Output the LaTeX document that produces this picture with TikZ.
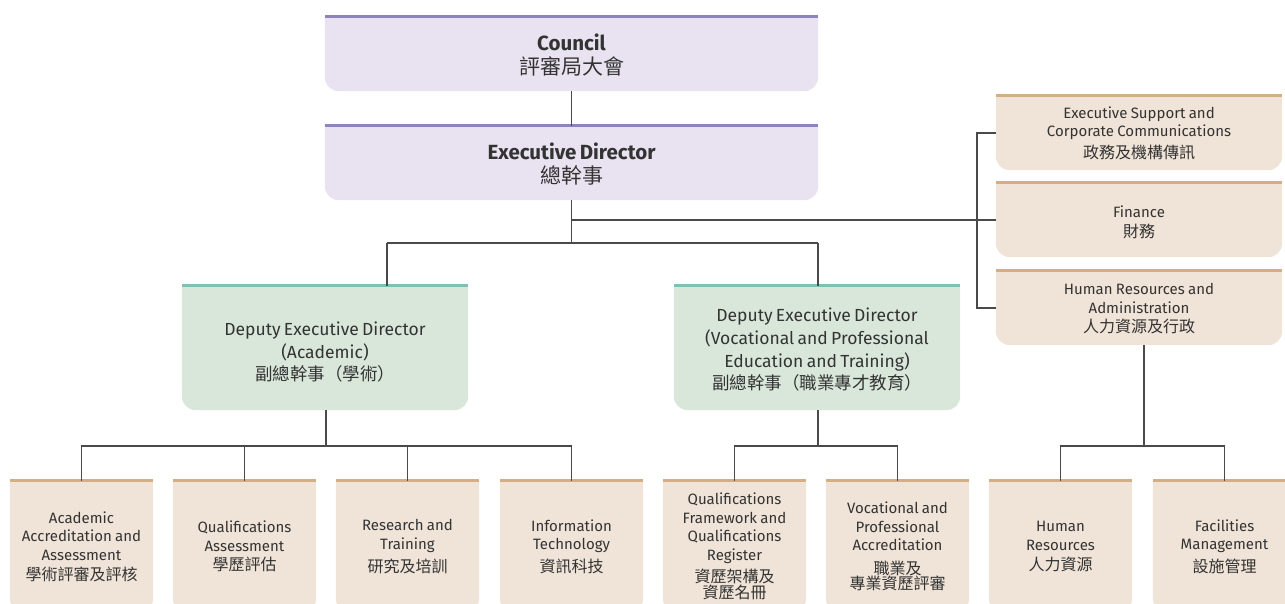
\documentclass[tikz,border=0pt]{standalone}
\usepackage{fontspec}
\setmainfont{Fira Sans}
\newfontfamily\cjk{Noto Sans CJK TC}
\usetikzlibrary{backgrounds}
\definecolor{lavfill}{HTML}{E9E3F1}
\definecolor{lavline}{HTML}{8C84BD}
\definecolor{grnfill}{HTML}{D9E7DA}
\definecolor{grnline}{HTML}{80C0B4}
\definecolor{tanfill}{HTML}{F0E4D8}
\definecolor{tanline}{HTML}{D4AF86}
\definecolor{txtcol}{HTML}{333333}
\definecolor{linkcol}{HTML}{4A4A4A}
% #1 name, #2 x1, #3 y1, #4 x2, #5 y2, #6 fill, #7 top line, #8 text, #9 text shift down
\newcommand\orgbox[9]{%
 \pgfmathsetmacro\bw{#4-#2}\pgfmathsetmacro\bh{#5-#3}%
 \pgfmathsetmacro\bx{(#2+#4)/2}\pgfmathsetmacro\by{(#3+#5)/2}%
 \pgfmathsetmacro\tw{#4-#2-8}%
 \node[boxshape, minimum width=\bw pt, minimum height=\bh pt] (#1) at (\bx,\by) {};
 \fill[#6] (#1.north west) [rounded corners=14pt] -- (#1.south west) -- (#1.south east) [sharp corners] -- (#1.north east) -- cycle;
 \draw[#7, line width=3pt] (#1.north west) -- (#1.north east);
 \node[boxtext, text width=\tw pt, yshift=-#9pt] (#1-t) at (#1.center) {#8};
}
% font helpers
\newcommand\bigf{\fontsize{20.5}{24}\selectfont}
\newcommand\bigc[1]{{\cjk\fontsize{21}{24}\selectfont #1}}
\newcommand\depf{\fontsize{17.5}{23}\selectfont}
\newcommand\depc[1]{{\cjk\fontsize{17.5}{23}\selectfont #1}}
\newcommand\smf{\fontsize{15}{18.5}\selectfont}
\newcommand\smc[1]{{\cjk\fontsize{16}{18.5}\selectfont #1}}
\tikzset{
 boxshape/.style={inner sep=0pt, draw=none},
 boxtext/.style={inner sep=0pt, align=center, text=txtcol},
 link/.style={draw=linkcol, line width=1.2pt}
}
\begin{document}
\begin{tikzpicture}[x=1pt,y=-1pt]
\useasboundingbox (0,0) rectangle (1285,603);
% top
\orgbox{council}{325}{17}{818}{91}{lavfill}{lavline}{\bigf{\bfseries Council}\\[5pt]\bigc{評審局大會}}{1}
\orgbox{ed}{325}{126}{818}{200}{lavfill}{lavline}{\bigf{\bfseries Executive Director}\\[5pt]\bigc{總幹事}}{1}
% deputies
\orgbox{depA}{182}{286}{468}{410}{grnfill}{grnline}{\depf Deputy Executive Director\\(Academic)\\[2.5pt]\depc{副總幹事（學術）}}{4}
\orgbox{depV}{674}{286}{960}{410}{grnfill}{grnline}{\depf Deputy Executive Director\\(Vocational and Professional\\Education and Training)\\[2.5pt]\depc{副總幹事（職業專才教育）}}{1.5}
% right column
\orgbox{es}{996}{96}{1282}{170}{tanfill}{tanline}{\smf Executive Support and\\Corporate Communications\\[4.5pt]\smc{政務及機構傳訊}}{0.5}
\orgbox{fin}{996}{183}{1282}{257}{tanfill}{tanline}{\smf Finance\\[5pt]\smc{財務}}{2}
\orgbox{hra}{996}{271}{1282}{345}{tanfill}{tanline}{\smf Human Resources and\\Administration\\[4.5pt]\smc{人力資源及行政}}{0.5}
% bottom row
\orgbox{b1}{10}{481}{153}{612}{tanfill}{tanline}{\smf Academic\\Accreditation and\\Assessment\\[5pt]\smc{學術評審及評核}}{0}
\orgbox{b2}{173}{481}{316}{612}{tanfill}{tanline}{\smf Qualifications\\Assessment\\[5pt]\smc{學歷評估}}{0}
\orgbox{b3}{336}{481}{479}{612}{tanfill}{tanline}{\smf Research and\\Training\\[5pt]\smc{研究及培訓}}{0}
\orgbox{b4}{500}{481}{643}{612}{tanfill}{tanline}{\smf Information\\Technology\\[5pt]\smc{資訊科技}}{0}
\orgbox{b5}{663}{481}{806}{612}{tanfill}{tanline}{\smf Qualifications\\Framework and\\Qualifications\\Register\\[4pt]\smc{資歷架構及\\資歷名冊}}{0}
\orgbox{b6}{826}{481}{969}{612}{tanfill}{tanline}{\smf Vocational and\\Professional\\Accreditation\\[5pt]\smc{職業及\\專業資歷評審}}{0}
\orgbox{b7}{989}{481}{1132}{612}{tanfill}{tanline}{\smf Human\\Resources\\[5pt]\smc{人力資源}}{0}
\orgbox{b8}{1153}{481}{1296}{612}{tanfill}{tanline}{\smf Facilities\\Management\\[5pt]\smc{設施管理}}{0}
% connectors
\coordinate (ja) at (387,243);
\coordinate (jv) at (818,243);
\coordinate (bx) at (977,0);
\coordinate (ha) at (326,446);
\coordinate (hv) at (818,446);
\coordinate (hh) at (1144,446);
\draw[link] (council.south) -- (ed.north);
\draw[link] (ed.south) -- (ed.south |- ja);
\draw[link] (ja) -- (jv);
\draw[link] (ja) -- (ja |- depA.north);
\draw[link] (jv) -- (jv |- depV.north);
\draw[link] (ed.south |- fin.west) -- (fin.west);
\draw[link] (es.west) -- (es.west -| bx) -- (hra.west -| bx) -- (hra.west);
\draw[link] (ha |- depA.south) -- (ha);
\draw[link] (b1.north) -- (b1.north |- ha) -- (b4.north |- ha) -- (b4.north);
\draw[link] (b2.north) -- (b2.north |- ha);
\draw[link] (b3.north) -- (b3.north |- ha);
\draw[link] (hv |- depV.south) -- (hv);
\draw[link] (b5.north) -- (b5.north |- hv) -- (b6.north |- hv) -- (b6.north);
\draw[link] (hh |- hra.south) -- (hh);
\draw[link] (b7.north) -- (b7.north |- hh) -- (b8.north |- hh) -- (b8.north);
\end{tikzpicture}
\end{document}
